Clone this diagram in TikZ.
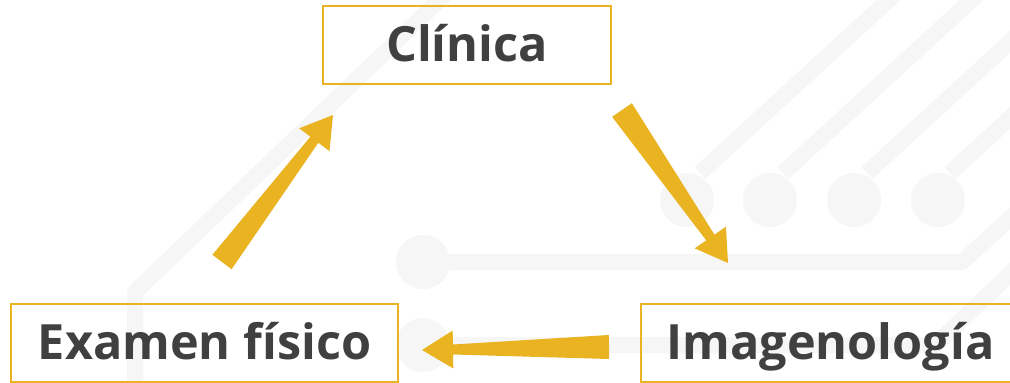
\documentclass[tikz,border=0pt]{standalone}
\usepackage{fontspec}
\setmainfont{Open Sans}
\usetikzlibrary{calc}
\definecolor{gold}{RGB}{233,179,34}
\definecolor{txt}{RGB}{64,64,64}
\definecolor{bgline}{RGB}{246,246,246}
\newcommand\taperarrow[2]{%
  \coordinate (neck) at ($(#2)!31pt!(#1)$);
  \fill[gold]
    ($(#1)!12pt!90:(#2)$) --
    ($(neck)!5pt!90:(#2)$) --
    ($(neck)!19pt!90:(#2)$) --
    (#2) --
    ($(neck)!19pt!-90:(#2)$) --
    ($(neck)!5pt!-90:(#2)$) --
    ($(#1)!12pt!-90:(#2)$) -- cycle;
}
\tikzset{
  box/.style={draw=gold, line width=1.5pt, text=txt, inner sep=0pt,
    minimum height=78pt, font=\fontsize{48.6}{55}\selectfont\bfseries,
    text height=36pt, text depth=3pt},
  bg/.style={draw=bgline, line width=16pt, line join=round},
  dot/.style={fill=bgline},
}
\begin{document}
\begin{tikzpicture}[x=1pt,y=-1pt]
\clip (0,0) rectangle (1010,383);
\fill[white] (0,0) rectangle (1010,383);
% faint background circuit
\draw[bg] (135,400) -- (135,292) -- (452,-12);
\draw[bg] (700,173) -- (905,-15);
\draw[bg] (783,173) -- (988,-15);
\draw[bg] (867,173) -- (1072,-15);
\draw[bg] (950,173) -- (1155,-15);
\foreach \x in {687,770,854,938} \fill[dot] (\x,200) circle (27);
\draw[bg] (423,262) -- (962,262) -- (1030,200);
\fill[dot] (423,262) circle (27);
\draw[bg] (423,345) -- (935,345) -- (1030,255);
\fill[dot] (423,345) circle (27);
% boxes
\node[box, minimum width=288pt] (clin) at (467,45) {Clínica};
\node[box, minimum width=387pt] (exam) at (204.5,343) {Examen físico};
\node[box, minimum width=379pt] (imag) at (830.5,343) {Imagenología};
% arrows
\coordinate (a1t) at (222,262); \coordinate (a1h) at (333,115);
\coordinate (a2t) at (622,110); \coordinate (a2h) at (728,263);
\coordinate (a3t) at (609,347); \coordinate (a3h) at (422,350);
\taperarrow{a1t}{a1h}
\taperarrow{a2t}{a2h}
\taperarrow{a3t}{a3h}
\end{tikzpicture}
\end{document}
